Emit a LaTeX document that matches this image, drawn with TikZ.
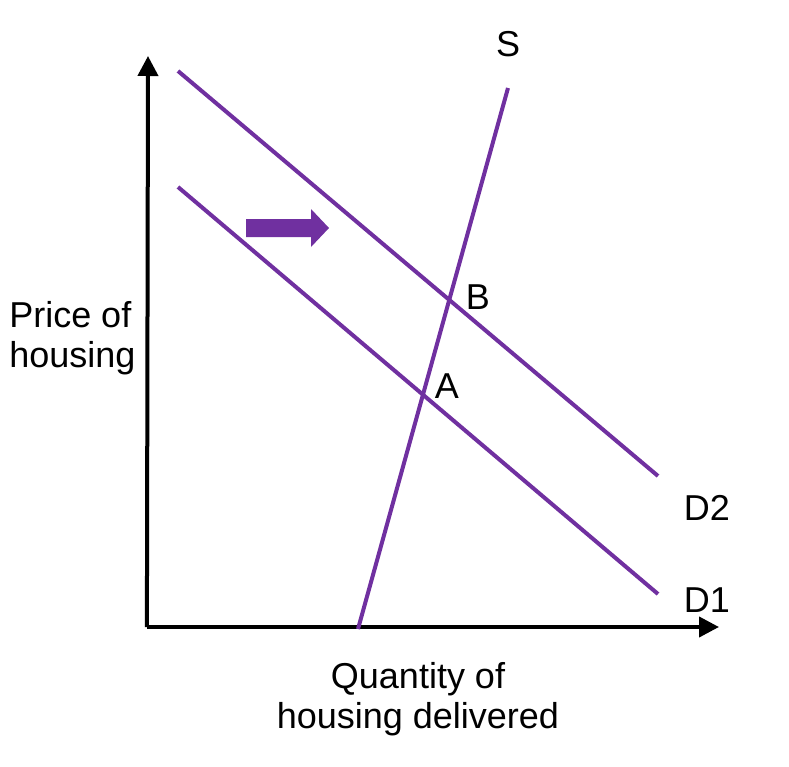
\documentclass[tikz,border=0pt]{standalone}
\usepackage{fontspec}
\setmainfont{Liberation Sans}
\usetikzlibrary{arrows.meta}
\definecolor{officepurple}{RGB}{112,48,160}

\tikzset{
  axis/.style={line width=3pt, -{Triangle[length=15pt,width=15pt]}},
  curve/.style={officepurple, line width=3pt},
  lbl/.style={font=\fontsize{27}{30}\selectfont, inner sep=0pt}
}

\begin{document}
\begin{tikzpicture}[x=0.75pt, y=-0.75pt]
  \useasboundingbox (0,0) rectangle (789,767);

  % axes
  \coordinate (origin) at (148,627);
  \coordinate (ytop) at (148,56);
  \coordinate (xend) at (719,627);
  \draw[axis] (146.9,627) -- (ytop);
  \draw[axis] (146.9,627) -- (xend);

  % demand and supply
  \coordinate (d2start) at (178,71);
  \coordinate (d2end) at (658,476);
  \coordinate (d1start) at (178,187);
  \coordinate (d1end) at (658,594);
  \coordinate (sbottom) at (358,629);
  \coordinate (stop) at (508,88);
  \draw[curve] (d2start) -- (d2end);
  \draw[curve] (d1start) -- (d1end);
  \draw[curve] (sbottom) -- (stop);

  % shift arrow
  \fill[officepurple] (246,219) -- (311,219) -- (311,209) -- (329,228)
    -- (311,247) -- (311,237) -- (246,237) -- cycle;

  % labels
  \node[lbl] (slabel) at (508,44) {S};
  \node[lbl] (blabel) at (478,297) {B};
  \node[lbl] (alabel) at (447,386) {A};
  \node[lbl] (d2label) at (707,508) {D2};
  \node[lbl] (d1label) at (707,600) {D1};
  \node[lbl, align=left, anchor=west] (ylabel) at (9,338) {Price of\\housing};
  \node[lbl, align=center] (xlabel) at (418,699) {Quantity of\\housing delivered};
\end{tikzpicture}
\end{document}
